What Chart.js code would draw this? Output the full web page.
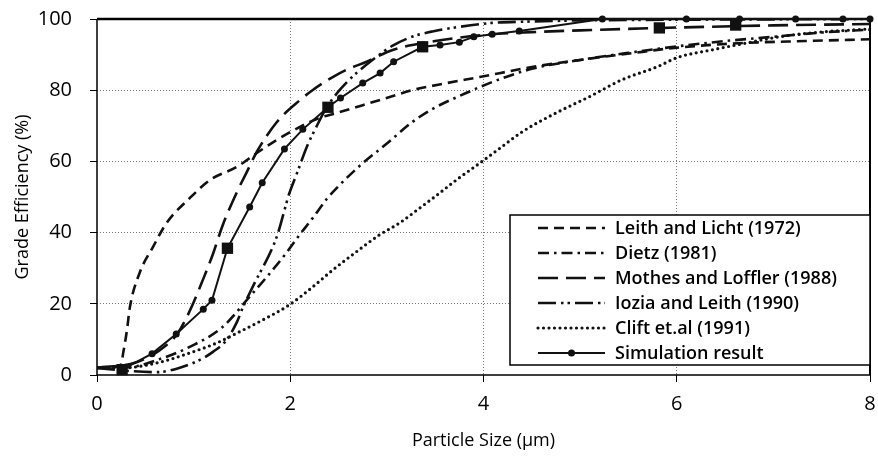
<!DOCTYPE html>
<html>
<head>
<meta charset="utf-8">
<script src="https://cdn.jsdelivr.net/npm/chart.js@4.4.0/dist/chart.umd.min.js"></script>
<style>
html, body { margin: 0; padding: 0; background: #fff; }
</style>
</head>
<body>
<canvas id="efficiency" width="878" height="465"></canvas>
<script>
// values (particle size in um, efficiency in %)
var leithX = [0, 0.2, 0.25, 0.27, 0.31, 0.34, 0.44, 0.58, 0.72, 0.96, 1.17, 1.45, 1.65, 1.86, 2.1, 2.3, 2.48, 2.75, 3.03, 3.26, 3.62, 3.96, 4.5, 5.0, 5.54, 5.95, 6.64, 7.33, 8];
var leithY = [2, 2.3, 3, 6, 12.6, 19, 28.6, 36, 42.7, 49.7, 54.8, 58.5, 62.3, 66, 69.7, 72.2, 73.6, 75.8, 78.1, 80, 82, 83.7, 86.5, 88.5, 90.4, 91.8, 93.2, 93.8, 94.3];

var dietzX = [0, 0.34, 0.62, 0.96, 1.3, 1.58, 1.79, 1.96, 2.1, 2.23, 2.38, 2.48, 2.75, 3.0, 3.26, 3.47, 3.82, 4.09, 4.5, 5.0, 5.5, 6.0, 6.5, 7.0, 7.5, 8];
var dietzY = [2, 2.2, 4.2, 7.9, 13.5, 22, 28.6, 34.3, 39.5, 44, 49.5, 52.5, 59.5, 65, 71, 74.7, 79.2, 82.3, 86, 88.5, 90.5, 92.3, 93.8, 95, 96.2, 97];

var mothesX = [0, 0.4, 0.65, 0.83, 0.96, 1.1, 1.2, 1.3, 1.45, 1.55, 1.65, 1.86, 2.1, 2.23, 2.44, 2.58, 2.79, 3.06, 3.5, 4.0, 4.5, 5, 6, 7, 8];
var mothesY = [2, 3.5, 7, 11.5, 18, 27, 34, 42, 51.5, 57, 62.5, 71, 77.2, 80, 83.7, 85.7, 88, 91.3, 93.8, 95.5, 96.3, 96.8, 97.6, 98.2, 98.6];

var ioziaX = [0, 0.3, 0.62, 0.85, 1.06, 1.2, 1.34, 1.45, 1.51, 1.61, 1.86, 1.99, 2.07, 2.17, 2.27, 2.38, 2.51, 2.64, 2.85, 3.06, 3.26, 3.47, 3.75, 4.09, 4.5, 5, 6, 7, 8];
var ioziaY = [2, 1.2, 0.8, 2, 4.2, 6.5, 9.8, 15, 19, 24.7, 38.8, 51, 56.7, 64, 69.7, 75.3, 80, 83.7, 88.5, 92.5, 95, 96.5, 97.8, 98.9, 99.3, 99.6, 99.8, 99.9, 100];

var cliftX = [0, 0.27, 0.62, 0.96, 1.24, 1.45, 1.71, 1.99, 2.23, 2.44, 2.64, 2.92, 3.13, 3.34, 3.54, 3.72, 3.96, 4.16, 4.4, 4.75, 5.09, 5.43, 5.79, 6.02, 6.36, 6.71, 7.06, 7.47, 7.81, 8];
var cliftY = [2, 2, 3.4, 6.2, 9, 11.8, 15.4, 19.7, 24.7, 29.5, 33.7, 39.3, 42.7, 46.9, 51, 54.8, 59.5, 63.5, 68.3, 73.6, 78.1, 82.9, 86.5, 89.3, 91.3, 93.2, 95, 96.3, 96.9, 97.2];

var simX = [0.26, 0.57, 0.82, 1.1, 1.19, 1.35, 1.58, 1.71, 1.94, 2.13, 2.39, 2.52, 2.75, 2.93, 3.07, 3.37, 3.55, 3.75, 3.9, 4.09, 4.37, 5.23, 6.1, 6.65, 7.23, 7.72, 8];
var simY = [1.5, 6, 11.5, 18.5, 21, 35.6, 47.2, 54, 63.5, 69, 75.2, 77.8, 82, 84.8, 88, 92.2, 92.7, 93.5, 95, 95.7, 96.6, 100, 100, 100, 100, 100, 100];

var squareX = [0.26, 1.35, 2.39, 3.37, 5.82, 6.61];
var squareY = [1.5, 35.6, 75.2, 92.2, 97.5, 98.3];

var xTicks = [0, 2, 4, 6, 8];
var yTicks = [0, 20, 40, 60, 80, 100];

function pts(xs, ys) {
    return xs.map(function (x, i) { return { x: x, y: ys[i] }; });
}

var ink = '#111';

function curve(label, xs, ys, dash, extra) {
    var ds = {
        label: label,
        data: pts(xs, ys),
        borderColor: ink,
        borderWidth: 2.6,
        borderDash: dash,
        cubicInterpolationMode: 'monotone',
        pointRadius: 0,
        fill: false
    };
    for (var k in extra) ds[k] = extra[k];
    return ds;
}

// frame round the plot area: thin left/bottom axes, heavier top/right
var framePlugin = {
    id: 'frame',
    beforeDatasetsDraw: function (chart) {
        var a = chart.chartArea, ctx = chart.ctx;
        ctx.save();
        ctx.strokeStyle = '#000';
        ctx.lineWidth = 1.5;
        ctx.beginPath();
        ctx.moveTo(a.left, a.top);
        ctx.lineTo(a.left, a.bottom);
        ctx.lineTo(a.right, a.bottom);
        ctx.stroke();
        ctx.lineWidth = 2.5;
        ctx.beginPath();
        ctx.moveTo(a.left, a.top);
        ctx.lineTo(a.right, a.top);
        ctx.stroke();
        ctx.lineWidth = 2;
        ctx.beginPath();
        ctx.moveTo(a.right, a.top);
        ctx.lineTo(a.right, a.bottom);
        ctx.stroke();
        ctx.restore();
    }
};

// boxed legend in the lower right corner of the plot
var legendPlugin = {
    id: 'boxLegend',
    afterDatasetsDraw: function (chart) {
        var a = chart.chartArea, ctx = chart.ctx;
        var items = chart.data.datasets.filter(function (d) { return !d.noLegend; });
        var bx = 510, by = 215, bw = a.right - bx, bh = 150;
        ctx.save();
        ctx.fillStyle = '#fff';
        ctx.fillRect(bx, by, bw, bh);
        ctx.strokeStyle = '#000';
        ctx.lineWidth = 1.5;
        ctx.strokeRect(bx, by, bw, bh);
        ctx.font = '600 18px "Open Sans"';
        ctx.textBaseline = 'middle';
        items.forEach(function (d, i) {
            var y = by + 13 + i * 25;
            ctx.strokeStyle = ink;
            ctx.lineWidth = d.borderWidth;
            ctx.lineCap = d.borderCapStyle || 'butt';
            ctx.setLineDash(d.borderDash || []);
            ctx.beginPath();
            ctx.moveTo(538, y);
            ctx.lineTo(605, y);
            ctx.stroke();
            ctx.setLineDash([]);
            if (d.pointRadius > 0) {
                ctx.fillStyle = ink;
                ctx.beginPath();
                ctx.arc(571.5, y, d.pointRadius, 0, Math.PI * 2);
                ctx.fill();
            }
            ctx.fillStyle = '#000';
            ctx.fillText(d.label, 615, y + 1);
        });
        ctx.restore();
    }
};

function gridColor(c) {
    var v = c.tick.value;
    return (v === 0 || v === c.scale.max) ? 'rgba(0,0,0,0)' : '#7a7a7a';
}

new Chart(document.getElementById('efficiency'), {
    type: 'line',
    data: {
        datasets: [
            curve('Leith and Licht (1972)', leithX, leithY, [10, 6]),
            curve('Dietz (1981)', dietzX, dietzY, [11, 5, 2.5, 5]),
            curve('Mothes and Loffler (1988)', mothesX, mothesY, [20, 8]),
            curve('Iozia and Leith (1990)', ioziaX, ioziaY, [18, 5, 2.5, 4, 2.5, 5]),
            curve('Clift et.al (1991)', cliftX, cliftY, [0, 5.5], { borderCapStyle: 'round', borderWidth: 3.2 }),
            {
                label: 'Simulation result',
                data: pts(simX, simY),
                borderColor: ink,
                backgroundColor: ink,
                borderWidth: 2,
                tension: 0,
                pointRadius: 3.5,
                pointBorderWidth: 0,
                clip: false,
                fill: false
            },
            {
                label: 'squares',
                noLegend: true,
                data: pts(squareX, squareY),
                showLine: false,
                pointStyle: 'rect',
                pointRadius: 8,
                pointBorderWidth: 0,
                backgroundColor: ink,
                borderColor: ink,
                clip: false
            }
        ]
    },
    options: {
        responsive: false,
        animation: false,
        layout: { padding: { top: 19, right: 7, left: 0, bottom: 0 } },
        plugins: { legend: { display: false }, tooltip: { enabled: false } },
        scales: {
            x: {
                type: 'linear',
                min: 0,
                max: 8,
                afterBuildTicks: function (s) { s.ticks = xTicks.map(function (v) { return { value: v }; }); },
                afterFit: function (s) { s.height = 90; s.paddingLeft = 0; s.paddingRight = 0; },
                grid: { color: gridColor, lineWidth: 1, tickColor: '#000', tickLength: 7, tickBorderDash: [] },
                border: { display: false, dash: [1, 2] },
                ticks: { color: '#000', padding: 10, font: { family: 'Open Sans', size: 20 } },
                title: { display: true, text: 'Particle Size (\u00b5m)', color: '#000', padding: { top: 0, bottom: 13 }, font: { family: 'Open Sans', size: 18 } }
            },
            y: {
                min: 0,
                max: 100,
                afterBuildTicks: function (s) { s.ticks = yTicks.map(function (v) { return { value: v }; }); },
                afterFit: function (s) { s.width = 97; s.paddingTop = 0; s.paddingBottom = 0; },
                grid: { color: gridColor, lineWidth: 1, tickColor: '#000', tickLength: 7, tickBorderDash: [] },
                border: { display: false, dash: [1, 2] },
                ticks: { color: '#000', padding: 18, font: { family: 'Open Sans', size: 20 } },
                title: { display: true, text: 'Grade Efficiency (%)', color: '#000', padding: { top: 12, bottom: 0 }, font: { family: 'Open Sans', size: 18 } }
            }
        }
    },
    plugins: [framePlugin, legendPlugin]
});
</script>
</body>
</html>
